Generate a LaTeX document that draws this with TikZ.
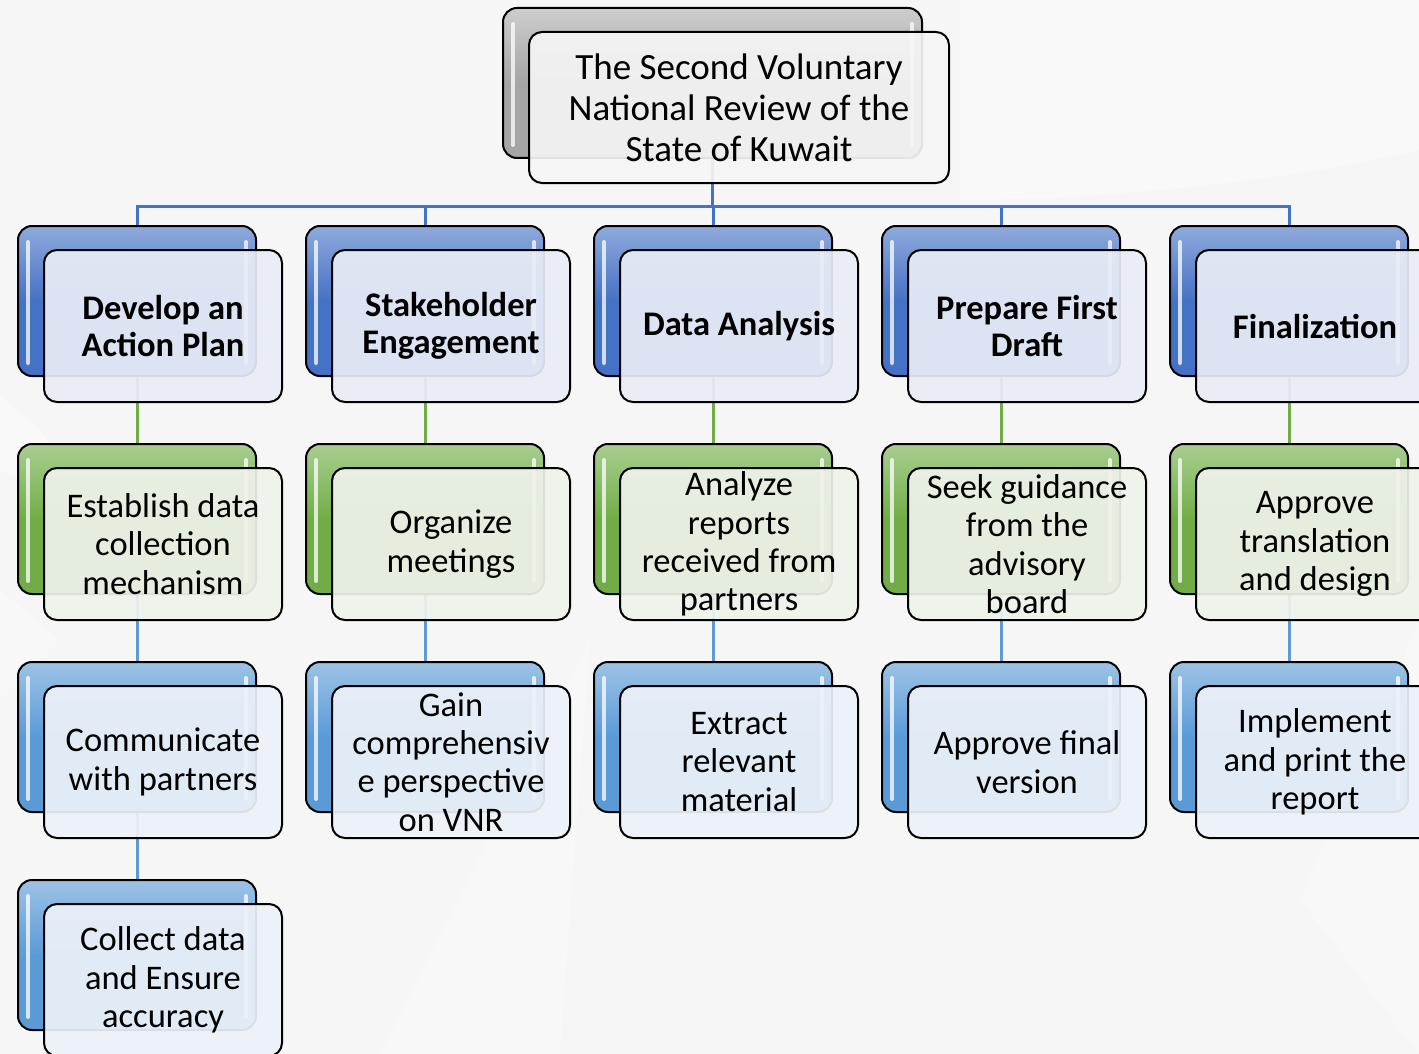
\documentclass[tikz,border=0pt]{standalone}
\usepackage{fontspec}
\setmainfont{Carlito}
\usetikzlibrary{calc}
\pgfdeclarelayer{bglayer}
\pgfdeclarelayer{lines}
\pgfsetlayers{bglayer,lines,main}

\definecolor{cdark}{HTML}{4472C4}
\definecolor{cgreen}{HTML}{70AD47}
\definecolor{clight}{HTML}{5B9BD5}
\definecolor{cgray}{HTML}{A5A5A5}
\definecolor{fdark}{HTML}{E9EDF6}
\definecolor{fgreen}{HTML}{EEF3EB}
\definecolor{flight}{HTML}{EDF2F9}
\definecolor{ftop}{HTML}{F5F5F5}
\definecolor{bgc}{HTML}{F6F6F6}

\tikzset{
 backbox/.style={draw=black, line width=2pt, rounded corners=14pt,
   minimum width=238pt, minimum height=150pt, inner sep=0pt},
 frontbox/.style={draw=black, line width=2pt, rounded corners=13pt,
   minimum width=238pt, minimum height=152pt, inner sep=0pt, align=center,
   fill opacity=0.92, text opacity=1},
 gloss/.style={white, line width=4pt, line cap=round, opacity=0.75},
 lvlone/.style={font=\fontsize{34.5}{37}\selectfont\bfseries},
 lvlrest/.style={font=\fontsize{34.5}{38.3}\selectfont},
 conn/.style={line width=3pt},
}

% #1 name, #2 x, #3 y, #4 back colour, #5 front fill, #6 font style, #7 text
\newcommand\mkpair[7]{%
 \node[backbox, top color=#4!60!white, bottom color=#4, middle color=#4] (#1b) at (#2,#3) {};
 \draw[gloss] ($(#1b.north west)+(11,17)$) -- ($(#1b.south west)+(11,-14)$);
 \draw[gloss] ($(#1b.north east)+(-11,17)$) -- ($(#1b.south east)+(-11,-14)$);
 \node[frontbox, fill=#5, #6] (#1) at ($(#1b)+(26,25)$) {#7};
}

\begin{document}
\begin{tikzpicture}[x=1pt,y=-1pt]
\useasboundingbox (0,0) rectangle (1419,1054);
\clip (0,0) rectangle (1419,1054);

\begin{pgfonlayer}{bglayer}
 \fill[bgc] (0,0) rectangle (1419,1054);
 \fill[white, opacity=0.4] (0,395) -- (40,430) -- (110,520) -- (0,470) -- cycle;
 \fill[white, opacity=0.35] (960,0) -- (1419,0) -- (1419,150) .. controls (1250,190) and (1050,200) .. (960,200) -- cycle;
 \fill[white, opacity=0.3] (0,590) -- (60,640) -- (0,700) -- cycle;
 \fill[white, opacity=0.25] (590,640) -- (560,1054) -- (380,1054) -- cycle;
 \fill[white, opacity=0.25] (1419,620) -- (1300,900) -- (1419,1054) -- cycle;
\end{pgfonlayer}

% top node
\node[backbox, minimum width=419pt, top color=cgray!55!white, bottom color=cgray, middle color=cgray] (topb) at (712.5,83) {};
\draw[gloss] ($(topb.north west)+(11,17)$) -- ($(topb.south west)+(11,-14)$);
\draw[gloss] ($(topb.north east)+(-11,17)$) -- ($(topb.south east)+(-11,-14)$);
\node[frontbox, minimum width=420pt, minimum height=151pt, fill=ftop, font=\fontsize{37}{41}\selectfont] (top) at (739,107.5)
 {The Second Voluntary\\National Review of the\\State of Kuwait};

% level 1
\mkpair{a1}{137}{301}{cdark}{fdark}{lvlone}{Develop an\\Action Plan}
\mkpair{b1}{425}{301}{cdark}{fdark}{lvlone}{Stakeholder\\Engagement}
\mkpair{c1}{713}{301}{cdark}{fdark}{lvlone}{Data Analysis}
\mkpair{d1}{1001}{301}{cdark}{fdark}{lvlone}{Prepare First\\Draft}
\mkpair{e1}{1289}{301}{cdark}{fdark}{lvlone}{Finalization}

% level 2
\mkpair{a2}{137}{519}{cgreen}{fgreen}{lvlrest}{Establish data\\collection\\mechanism}
\mkpair{b2}{425}{519}{cgreen}{fgreen}{lvlrest}{Organize\\meetings}
\mkpair{c2}{713}{519}{cgreen}{fgreen}{lvlrest}{Analyze\\reports\\received from\\partners}
\mkpair{d2}{1001}{519}{cgreen}{fgreen}{lvlrest}{Seek guidance\\from the\\advisory\\board}
\mkpair{e2}{1289}{519}{cgreen}{fgreen}{lvlrest}{Approve\\translation\\and design}

% level 3
\mkpair{a3}{137}{737}{clight}{flight}{lvlrest}{Communicate\\with partners}
\mkpair{b3}{425}{737}{clight}{flight}{lvlrest}{Gain\\comprehensiv\\e perspective\\on VNR}
\mkpair{c3}{713}{737}{clight}{flight}{lvlrest}{Extract\\relevant\\material}
\mkpair{d3}{1001}{737}{clight}{flight}{lvlrest}{Approve final\\version}
\mkpair{e3}{1289}{737}{clight}{flight}{lvlrest}{Implement\\and print the\\report}

% level 4
\mkpair{a4}{137}{955}{clight}{flight}{lvlrest}{Collect data\\and Ensure\\accuracy}

\coordinate (bus) at (713,206);

\begin{pgfonlayer}{lines}
 \foreach \n in {a,b,c,d,e}{
  \draw[conn, cdark] (topb.south) -- (topb.south |- bus) -| (\n1b.north);
  \draw[conn, cgreen] (\n1b.south) -- (\n2b.north);
  \draw[conn, clight] (\n2b.south) -- (\n3b.north);
 }
 \draw[conn, clight] (a3b.south) -- (a4b.north);
\end{pgfonlayer}
\end{tikzpicture}
\end{document}
